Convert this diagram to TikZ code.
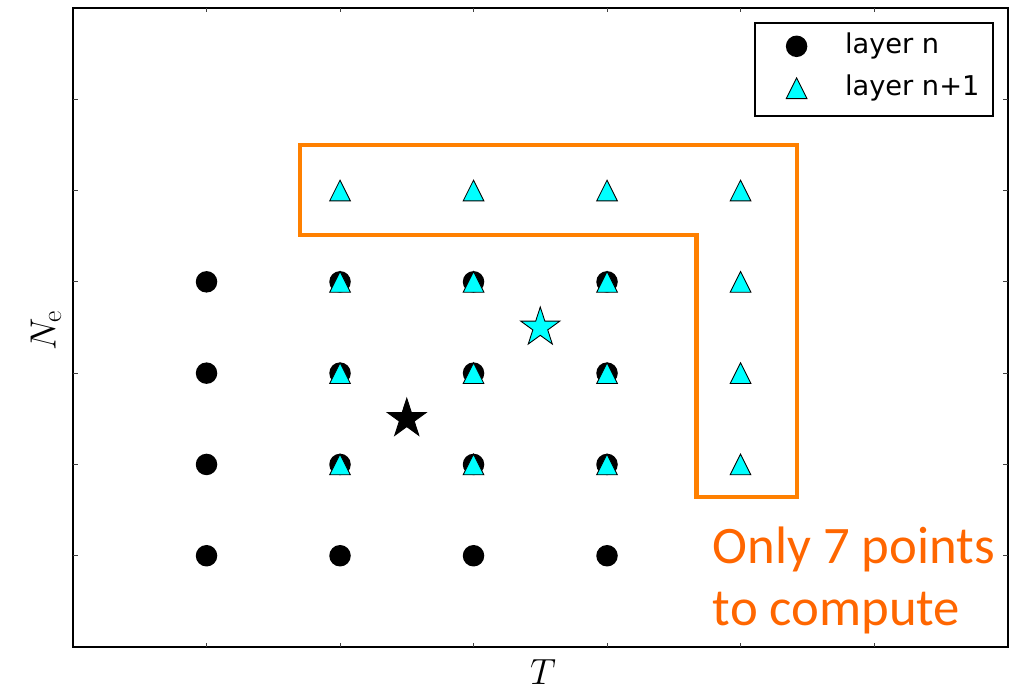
\documentclass[tikz,border=0pt]{standalone}
\usepackage{fontspec}
\newfontfamily\legendfont{DejaVu Sans}
\newfontfamily\notefont{Carlito}
\usetikzlibrary{shapes.geometric}
\definecolor{boxorange}{RGB}{255,128,0}
\definecolor{noteorange}{RGB}{255,102,0}
\definecolor{markcyan}{RGB}{0,255,255}

\tikzset{
    pics/tri/.style={code={
        \filldraw[trimark] (0cm,0.207cm) -- (-0.207cm,-0.207cm) -- (0.207cm,-0.207cm) -- cycle;
    }}
}

\begin{document}
\begin{tikzpicture}[
        x=2.67cm, y=1.826cm,
        frame/.style={draw=black, line width=1.1pt},
        tickmark/.style={draw=black!75, line width=0.5pt},
        dotmark/.style={circle, fill=black, inner sep=0pt, minimum size=0.43cm},
        trimark/.style={fill=markcyan, draw=black, line width=0.5pt, line join=miter},
        starmark/.style={star, star points=5, star point ratio=2.618, draw=black,
            line width=0.5pt, inner sep=0pt, minimum size=0.82cm},
        region/.style={draw=boxorange, line width=2.3pt, line join=miter},
        legendtext/.style={anchor=west, inner sep=0pt, font=\legendfont\fontsize{15.5}{18}\selectfont},
        note/.style={anchor=base west, inner sep=0pt, align=left, text=noteorange,
            font=\notefont\fontsize{30}{35.2}\selectfont},
        axislabel/.style={inner sep=0pt, font=\fontsize{22.5}{25}\selectfont}
    ]
    \useasboundingbox (-0.547,-0.46) rectangle (7.056,7.087);

    % axes box and ticks
    \draw[frame] (0,0) rectangle (7,7);
    \foreach \k in {1,...,6} {
        \draw[tickmark] (\k,0) -- ++(0,0.09cm);
        \draw[tickmark] (\k,7) -- ++(0,-0.09cm);
        \draw[tickmark] (0,\k) -- ++(0.09cm,0);
        \draw[tickmark] (7,\k) -- ++(-0.09cm,0);
    }
    \node[axislabel, anchor=north] (xlab) at (3.52,-0.13) {$T$};
    \node[axislabel, anchor=south, rotate=90] (ylab) at (-0.085,3.47) {$N_\mathrm{e}$};

    % layer n
    \foreach \i in {1,...,4}
        \foreach \j in {1,...,4}
            \node[dotmark] (n\i\j) at (\i,\j) {};

    % layer n+1
    \foreach \i in {2,...,5}
        \foreach \j in {2,...,5}
            \pic (m\i\j) at (\i,\j) {tri};

    % current points
    \node[starmark, fill=black] (sn) at (2.5,2.5) {};
    \node[starmark, fill=markcyan] (sm) at (3.5,3.5) {};

    % points to compute
    \draw[region] (1.70,5.50) -- (5.42,5.50) -- (5.42,1.64) -- (4.67,1.64)
        -- (4.67,4.51) -- (1.70,4.51) -- cycle;
    \node[note] (msg) at (4.79,0.24) {Only 7 points\\to compute};

    % legend
    \node[draw=black, line width=0.8pt, minimum width=4.76cm, minimum height=1.86cm,
        inner sep=0pt] (legend) at (6.0,6.325) {};
    \node[dotmark] (keyn) at (5.42,6.58) {};
    \pic (keym) at (5.42,6.12) {tri};
    \node[legendtext] (labn) at (5.78,6.58) {layer n};
    \node[legendtext] (labm) at (5.78,6.12) {layer n+1};
\end{tikzpicture}
\end{document}
